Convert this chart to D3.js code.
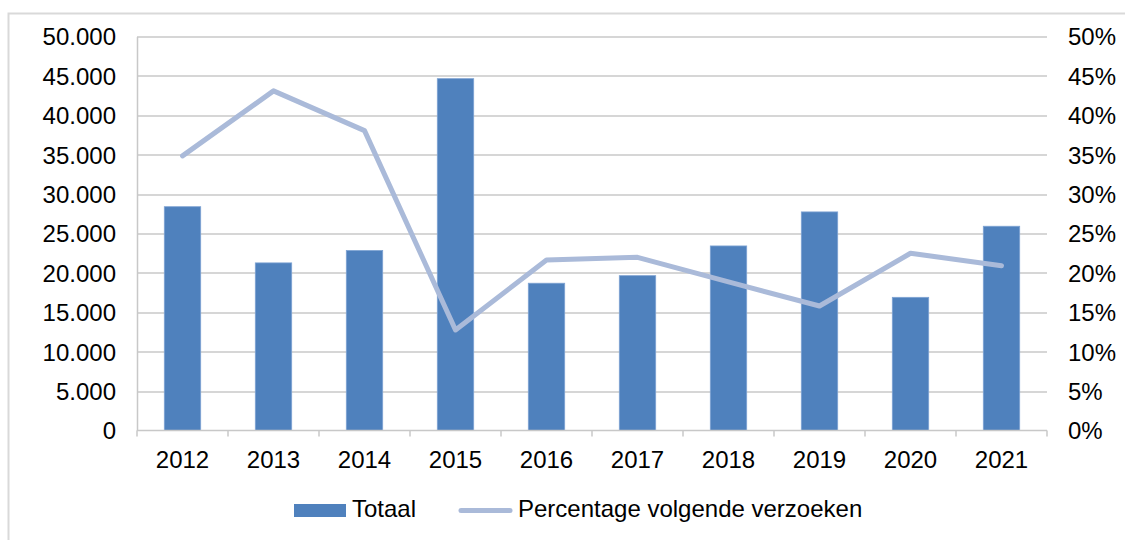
<!DOCTYPE html>
<head>
<meta charset="utf-8">
<title>Verzoeken per jaar</title>
<script src="https://d3js.org/d3.v7.min.js"></script>
<style>
  body { margin: 0; background: #fff; }
  text { font-family: "Liberation Sans", Arial, sans-serif; fill: #000; }
</style>
</head>
<body>
<div id="chart"></div>
<script>
    // data
    var years = ["2012", "2013", "2014", "2015", "2016", "2017", "2018", "2019", "2020", "2021"];
    var totaal = [28400, 21270, 22840, 44650, 18690, 19650, 23420, 27740, 16900, 25920];
    var percentage = [0.3485, 0.431, 0.3806, 0.1276, 0.2164, 0.2198, 0.1885, 0.158, 0.2249, 0.2092];
    var leftTicks = [0, 5000, 10000, 15000, 20000, 25000, 30000, 35000, 40000, 45000, 50000];
    var rightTicks = [0, 0.05, 0.10, 0.15, 0.20, 0.25, 0.30, 0.35, 0.40, 0.45, 0.50];
    var seriesNames = ["Totaal", "Percentage volgende verzoeken"];

    var margin = {top: 36.5, right: 78, bottom: 109.5, left: 137},
        width = 1125 - margin.left - margin.right,
        height = 540 - margin.top - margin.bottom;
    var fontSize = "24px";

    var root = d3.select("#chart")
      .append("svg")
        .attr("width", 1125)
        .attr("height", 540);

    // outer chart border
    root.append("rect")
      .attr("x", 8.5).attr("y", 13.5)
      .attr("width", 1130).attr("height", 540)
      .attr("fill", "none")
      .attr("stroke", "#d9d9d9")
      .attr("stroke-width", 2);

    var svg = root.append("g")
      .attr("transform", "translate(" + margin.left + "," + margin.top + ")");

    var x = d3.scaleBand().domain(years).range([0, width]).paddingInner(0.6).paddingOuter(0.3);
    var band = d3.scaleBand().domain(years).range([0, width]);
    var yLeft = d3.scaleLinear().domain([0, 50000]).range([height, 0]);
    var yRight = d3.scaleLinear().domain([0, 0.5]).range([height, 0]);

    // gridlines
    svg.append("g")
      .selectAll("line")
      .data(leftTicks.slice(1))
      .enter().append("line")
        .attr("x1", 0).attr("x2", width)
        .attr("y1", function(d) { return Math.round(yLeft(d)) + 0.5; })
        .attr("y2", function(d) { return Math.round(yLeft(d)) + 0.5; })
        .attr("stroke", "#c8c8c8")
        .attr("stroke-width", 1.5);

    var fmtNum = function(d) { return d3.format(",")(d).replace(/,/g, "."); };

    // left axis
    var gl = svg.append("g")
      .call(d3.axisLeft(yLeft).tickValues(leftTicks).tickSize(0).tickPadding(21).tickFormat(fmtNum));
    gl.select(".domain").attr("stroke", "#c8c8c8").attr("stroke-width", 1.5);
    gl.selectAll("text").style("font-size", fontSize).attr("dy", "0.35em");

    // right axis
    var gr = svg.append("g")
      .attr("transform", "translate(" + width + ",0)")
      .call(d3.axisRight(yRight).tickValues(rightTicks).tickSize(0).tickPadding(21).tickFormat(d3.format(".0%")));
    gr.select(".domain").remove();
    gr.selectAll("text").style("font-size", fontSize).attr("dy", "0.35em");

    // bars
    svg.append("g")
      .selectAll("rect")
      .data(years)
      .enter().append("rect")
        .attr("x", function(d) { return x(d); })
        .attr("y", function(d, i) { return yLeft(totaal[i]); })
        .attr("width", x.bandwidth())
        .attr("height", function(d, i) { return height - yLeft(totaal[i]); })
        .attr("fill", "#4f81bd")
        .attr("stroke", "#7ea3d3")
        .attr("stroke-width", 0.8);

    // bottom axis with ticks on category boundaries
    var gx = svg.append("g")
      .attr("transform", "translate(0," + height + ")");
    gx.append("line")
      .attr("x1", 0).attr("x2", width)
      .attr("stroke", "#c8c8c8").attr("stroke-width", 1.5);
    gx.selectAll(".tick")
      .data(years.concat(["end"]))
      .enter().append("line")
        .attr("x1", function(d, i) { return i < years.length ? band(d) : width; })
        .attr("x2", function(d, i) { return i < years.length ? band(d) : width; })
        .attr("y1", 0).attr("y2", 6)
        .attr("stroke", "#c8c8c8").attr("stroke-width", 1.5);
    gx.selectAll("text")
      .data(years)
      .enter().append("text")
        .attr("x", function(d) { return band(d) + band.bandwidth() / 2; })
        .attr("y", 37)
        .attr("text-anchor", "middle")
        .style("font-size", fontSize)
        .text(function(d) { return d; });

    // percentage line
    var line = d3.line()
      .x(function(d, i) { return band(years[i]) + band.bandwidth() / 2; })
      .y(function(d) { return yRight(d); });
    svg.append("path")
      .datum(percentage)
      .attr("d", line)
      .attr("fill", "none")
      .attr("stroke", "#aabad9")
      .attr("stroke-width", 5)
      .attr("stroke-linecap", "round")
      .attr("stroke-linejoin", "round");

    // legend
    var leg = root.append("g");
    leg.append("rect")
      .attr("x", 294).attr("y", 504)
      .attr("width", 52).attr("height", 13)
      .attr("fill", "#4f81bd");
    leg.append("text")
      .attr("x", 352).attr("y", 517)
      .style("font-size", fontSize)
      .text(seriesNames[0]);
    leg.append("line")
      .attr("x1", 461).attr("x2", 510)
      .attr("y1", 510.5).attr("y2", 510.5)
      .attr("stroke", "#aabad9")
      .attr("stroke-width", 5)
      .attr("stroke-linecap", "round");
    leg.append("text")
      .attr("x", 518).attr("y", 517)
      .style("font-size", fontSize)
      .text(seriesNames[1]);
</script>
</body>
